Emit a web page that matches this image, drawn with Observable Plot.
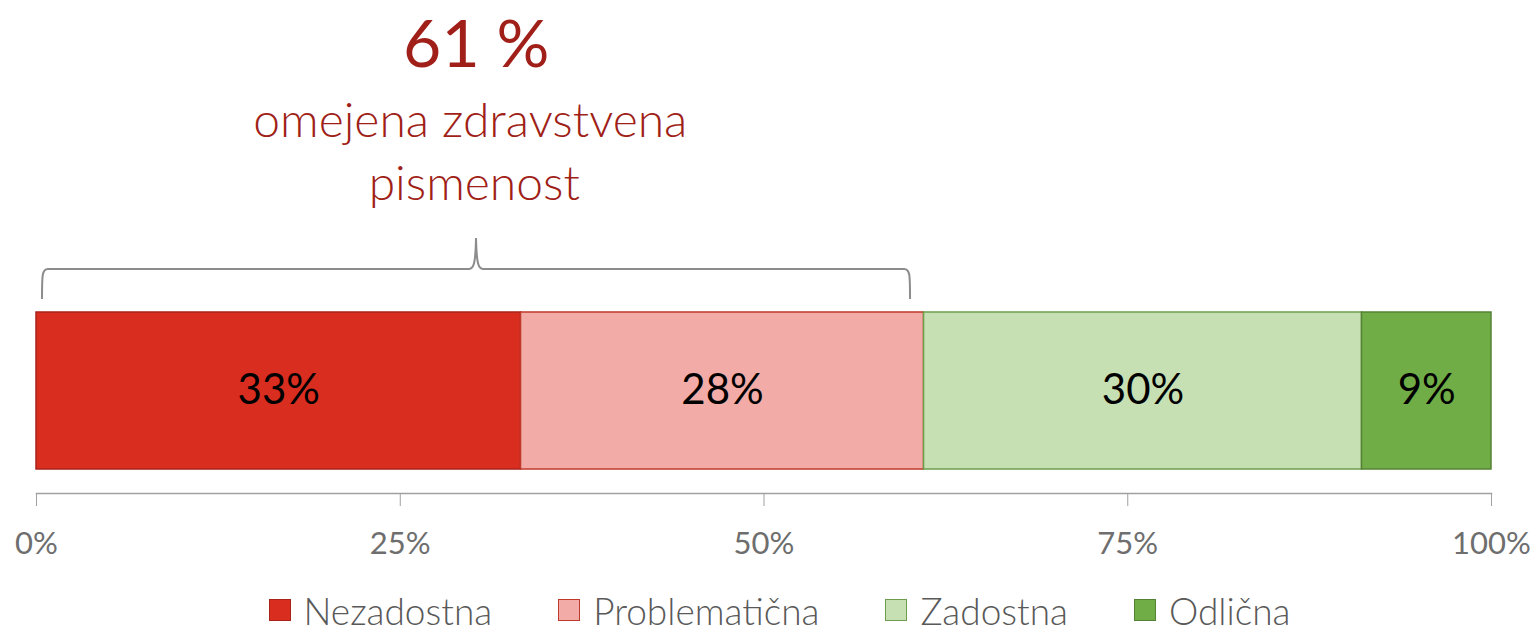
<!DOCTYPE html>
<html>
<head>
<meta charset="utf-8">
<script src="https://cdn.jsdelivr.net/npm/d3@7"></script>
<script src="https://cdn.jsdelivr.net/npm/@observablehq/plot@0.6"></script>
<style>
  html, body { margin: 0; padding: 0; background: #fff; }
  #chart { width: 1537px; }
  .legend { display: flex; justify-content: center; align-items: center; height: 40px;
            font-family: Lato, "Open Sans", sans-serif; font-size: 37px; font-weight: 300; color: #595959; padding-left: 22px; }
  .legend .item { display: flex; align-items: center; margin: 0 33px; }
  .legend .sw { width: 20px; height: 20px; border: 1.5px solid; margin-right: 13px; }
</style>
</head>
<body>
<div id="chart"></div>
<script>
const categories = ["Nezadostna", "Problematična", "Zadostna", "Odlična"];
const values = [33.3, 27.7, 30.1, 8.9];
const fills = ["#D92D20", "#F2ABA6", "#C6E0B4", "#70AD47"];
const strokes = ["#A8231A", "#C0392B", "#6E9E4C", "#548235"];
const limitedCategories = ["Nezadostna", "Problematična"];
const tickValues = [0, 25, 50, 75, 100];
const rowName = "Zdravstvena pismenost";
const titleLines = ["omejena zdravstvena", "pismenost"];

const data = categories.map((c, i) => ({row: rowName, category: c, value: values[i], fill: fills[i], stroke: strokes[i]}));
const limited = d3.sum(data.filter(d => limitedCategories.includes(d.category)), d => d.value);
const titleColor = "#A01F18";

function brace(index, scales) {
  const x0 = scales.x(0) + 6;
  const x1 = scales.x(limited) - 13.5;
  const xm = (x0 + x1) / 2;
  const top = scales.y(rowName);
  const yb = top - 13, yh = top - 43, yp = top - 74;
  const p = `M${x0},${yb} C${x0},${yh + 6} ${x0},${yh} ${x0 + 6},${yh} L${xm - 7},${yh} C${xm - 2},${yh} ${xm - 0.5},${yh - 7} ${xm},${yp} C${xm + 0.5},${yh - 7} ${xm + 2},${yh} ${xm + 7},${yh} L${x1 - 6},${yh} C${x1},${yh} ${x1},${yh + 6} ${x1},${yb}`;
  const g = d3.create("svg:path").attr("d", p).attr("fill", "none").attr("stroke", "#8C8C8C").attr("stroke-width", 2);
  return g.node();
}

const plot = Plot.plot({
  width: 1537,
  height: 590,
  marginLeft: 36,
  marginRight: 46,
  marginTop: 0,
  marginBottom: 97,
  style: {fontFamily: "Lato, 'Open Sans', sans-serif", background: "#fff"},
  x: {domain: [0, 100], axis: null},
  y: {type: "band", domain: [rowName], range: [312, 469], padding: 0, axis: null},
  color: {type: "identity"},
  marks: [
    Plot.barX(data, Plot.stackX({x: "value", y: "row", fill: "fill", stroke: "stroke", strokeWidth: 1.5, order: null})),
    Plot.text(data, Plot.stackX({x: "value", y: "row", text: d => Math.round(d.value) + "%", fontSize: 42, fill: "#000", order: null})),
    brace,
    Plot.text([limited], {x: d => d / 2, frameAnchor: "top", dy: 20, dx: -4, text: d => Math.round(d) + " %", fontSize: 66, fill: titleColor}),
    Plot.text([limited], {x: d => d / 2, frameAnchor: "top", dy: 102, dx: -10, text: () => titleLines[0], fontSize: 48, fontWeight: 300, fill: titleColor}),
    Plot.text([limited], {x: d => d / 2, frameAnchor: "top", dy: 165, dx: -6, text: () => titleLines[1], fontSize: 48, fontWeight: 300, fill: titleColor}),
    Plot.frame({anchor: "bottom", stroke: "#A0A0A0", strokeWidth: 1.5}),
    Plot.axisX(tickValues, {tickFormat: d => d + "%", label: null, tickSize: 13, tickPadding: 25, fontSize: 31, stroke: "#A0A0A0", fill: "#6E6E6E"})
  ]
});
document.getElementById("chart").appendChild(plot);

const legend = d3.select("#chart").append("div").attr("class", "legend");
categories.forEach((c, i) => {
  const it = legend.append("div").attr("class", "item");
  it.append("div").attr("class", "sw").style("background", fills[i]).style("border-color", strokes[i]);
  it.append("span").text(c);
});
</script>
</body>
</html>
